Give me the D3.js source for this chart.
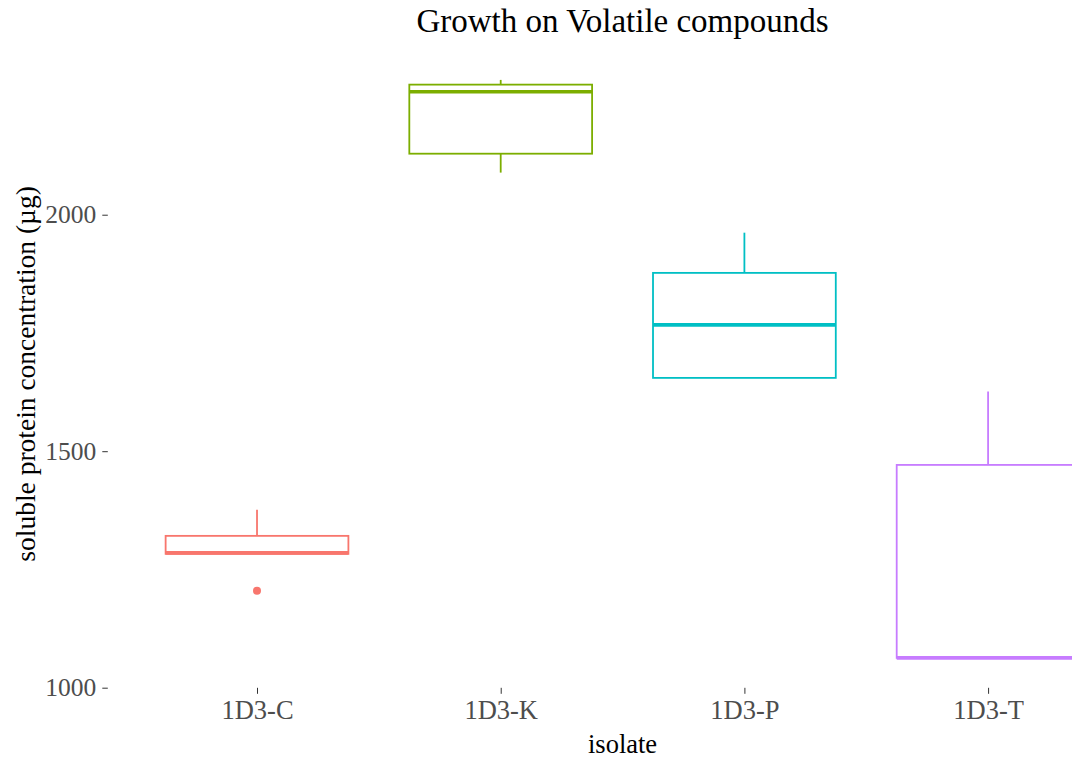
<!DOCTYPE html>
<html>
<head>
<meta charset="utf-8">
<script src="https://cdn.jsdelivr.net/npm/d3@7"></script>
<style>
  html, body { margin: 0; padding: 0; background: #fff; overflow: hidden; }
  svg { display: block; }
</style>
</head>
<body>
<svg id="chart" width="1072" height="759"></svg>
<script>
// Box-plot summaries of soluble protein (µg) per isolate
const isolates      = ["1D3-C", "1D3-K", "1D3-P", "1D3-T"];
const whiskerLow    = [1283, 2089, 1655, 1063];
const quartile1     = [1283, 2129, 1655, 1063];
const medians       = [1285, 2260, 1767, 1063];
const quartile3     = [1321, 2275, 1877, 1471];
const whiskerHigh   = [1376, 2285, 1962, 1626];
const outliers      = [[1205], [], [], []];
const yTicks        = [1000, 1500, 2000];
const colors        = ["#F8766D", "#7CAE00", "#00BFC4", "#C77CFF"];

const svg = d3.select("#chart");
const font = "'Liberation Serif', 'Times New Roman', serif";

// Panel geometry (the panel runs past the right edge of the drawing)
const panel = { left: 110.8, right: 1134.3, top: 51, bottom: 686.8 };

const x = d3.scalePoint()
  .domain(isolates)
  .range([panel.left, panel.right])
  .padding(0.6);

const allVals = whiskerLow.concat(whiskerHigh, outliers.flat());
const yMin = d3.min(allVals), yMax = d3.max(allVals);
const pad = (yMax - yMin) * 0.05;
const y = d3.scaleLinear()
  .domain([yMin - pad, yMax + pad])
  .range([panel.bottom, panel.top]);

const boxWidth = x.step() * 0.75;

const data = isolates.map((name, i) => ({
  name,
  lo: whiskerLow[i], q1: quartile1[i], med: medians[i],
  q3: quartile3[i], hi: whiskerHigh[i], out: outliers[i], color: colors[i]
}));

const g = svg.append("g");

const boxes = g.selectAll("g.box").data(data).enter().append("g").attr("class", "box");

// upper whisker
boxes.append("line")
  .attr("x1", d => x(d.name)).attr("x2", d => x(d.name))
  .attr("y1", d => y(d.q3)).attr("y2", d => y(d.hi))
  .attr("stroke", d => d.color).attr("stroke-width", 1.8);
// lower whisker
boxes.append("line")
  .attr("x1", d => x(d.name)).attr("x2", d => x(d.name))
  .attr("y1", d => y(d.q1)).attr("y2", d => y(d.lo))
  .attr("stroke", d => d.color).attr("stroke-width", 1.8);
// box
boxes.append("rect")
  .attr("x", d => x(d.name) - boxWidth / 2)
  .attr("width", boxWidth)
  .attr("y", d => y(d.q3))
  .attr("height", d => y(d.q1) - y(d.q3))
  .attr("fill", "#fff")
  .attr("stroke", d => d.color).attr("stroke-width", 1.8);
// median
boxes.append("line")
  .attr("x1", d => x(d.name) - boxWidth / 2)
  .attr("x2", d => x(d.name) + boxWidth / 2)
  .attr("y1", d => y(d.med)).attr("y2", d => y(d.med))
  .attr("stroke", d => d.color).attr("stroke-width", 3.6);
// outliers
boxes.selectAll("circle").data(d => d.out.map(v => ({ v, d })))
  .enter().append("circle")
  .attr("cx", o => x(o.d.name))
  .attr("cy", o => y(o.v))
  .attr("r", 4)
  .attr("fill", o => o.d.color);

// Y axis
const yAxis = g.append("g")
  .attr("transform", `translate(${panel.left - 3},0)`)
  .call(d3.axisLeft(y).tickValues(yTicks).tickSize(5.5).tickPadding(6).tickFormat(d3.format("d")));
yAxis.select(".domain").remove();
yAxis.selectAll(".tick line").attr("stroke", "#333").attr("stroke-width", 1);
yAxis.selectAll(".tick text")
  .attr("fill", "#4D4D4D").style("font-family", font).style("font-size", "25.5px");

// X axis
const xAxis = g.append("g")
  .attr("transform", `translate(0,${panel.bottom + 1})`)
  .call(d3.axisBottom(x).tickSize(6).tickPadding(6));
xAxis.select(".domain").remove();
xAxis.selectAll(".tick line").attr("stroke", "#333").attr("stroke-width", 1);
xAxis.selectAll(".tick text")
  .attr("fill", "#4D4D4D").style("font-family", font).style("font-size", "26.5px");

// Titles
svg.append("text")
  .attr("x", (panel.left + panel.right) / 2).attr("y", 32)
  .attr("text-anchor", "middle")
  .style("font-family", font).style("font-size", "33px").attr("fill", "#000")
  .text("Growth on Volatile compounds");

svg.append("text")
  .attr("x", (panel.left + panel.right) / 2).attr("y", 753)
  .attr("text-anchor", "middle")
  .style("font-family", font).style("font-size", "26.5px").attr("fill", "#000")
  .text("isolate");

svg.append("text")
  .attr("transform", `translate(35,${(panel.top + panel.bottom) / 2 + 5}) rotate(-90)`)
  .attr("text-anchor", "middle")
  .style("font-family", font).style("font-size", "27.5px").attr("fill", "#000")
  .text("soluble protein concentration (µg)");
</script>
</body>
</html>
